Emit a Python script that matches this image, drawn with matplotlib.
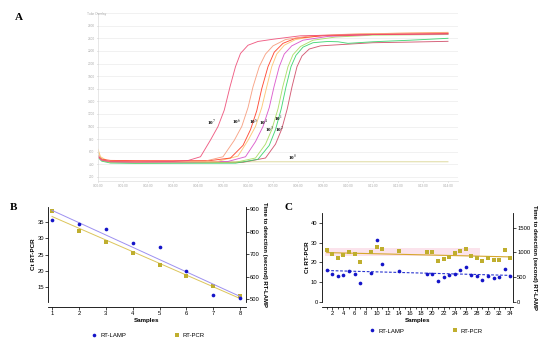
import numpy as np
import matplotlib.pyplot as plt
from matplotlib.lines import Line2D

plt.rcParams['font.family'] = ['Liberation Sans', 'DejaVu Sans']
plt.rcParams['mathtext.fontset'] = 'stix'

# ---------- panel A : amplification curves (minutes, fluorescence) ----------
t_e7 = [0, 0.15, 0.5, 1.5, 3.0, 3.6, 4.1, 4.5, 4.8, 5.05, 5.28, 5.5, 5.7, 6.0, 6.4, 7.0, 8.1, 10, 12, 14]
v_e7 = [540, 470, 445, 440, 445, 460, 520, 786, 1000, 1260, 1630, 1950, 2160, 2290, 2350, 2385, 2440, 2455, 2465, 2470]
t_e6 = [0, 0.15, 0.5, 1.5, 3.0, 4.3, 5.0, 5.45, 5.75, 6.0, 6.2, 6.45, 6.7, 7.0, 7.5, 8.5, 10, 12, 14]
v_e6 = [530, 470, 448, 442, 445, 452, 520, 780, 1000, 1300, 1630, 1950, 2150, 2280, 2380, 2440, 2465, 2480, 2490]
t_red = [0, 0.15, 0.5, 1.5, 3.0, 4.5, 5.3, 5.8, 6.1, 6.35, 6.55, 6.8, 7.05, 7.4, 7.9, 9, 11, 14]
v_red = [520, 480, 462, 458, 457, 460, 500, 700, 950, 1250, 1600, 1950, 2180, 2320, 2400, 2440, 2460, 2475]
t_e5 = [0, 0.1, 0.4, 1.5, 3.0, 4.8, 5.6, 6.0, 6.3, 6.55, 6.75, 6.95, 7.15, 7.45, 7.9, 8.8, 10.5, 14]
v_e5 = [640, 520, 450, 438, 440, 448, 530, 780, 1000, 1300, 1630, 1950, 2150, 2290, 2380, 2440, 2470, 2495]
t_e4 = [0, 0.15, 0.5, 1.5, 3.0, 5.2, 5.9, 6.3, 6.6, 6.85, 7.04, 7.25, 7.45, 7.75, 8.2, 9.2, 11, 14]
v_e4 = [520, 465, 440, 432, 435, 445, 520, 760, 1000, 1300, 1630, 1950, 2150, 2280, 2370, 2430, 2460, 2470]
t_e3 = [0, 0.15, 0.5, 1.5, 3.0, 5.5, 6.3, 6.7, 6.95, 7.2, 7.39, 7.6, 7.8, 8.1, 8.6, 9.5, 11, 14]
v_e3 = [520, 460, 432, 425, 428, 432, 500, 720, 950, 1280, 1630, 1950, 2140, 2270, 2370, 2420, 2450, 2460]
t_e2 = [0, 0.15, 0.5, 1.5, 3.0, 5.5, 6.4, 6.85, 7.1, 7.33, 7.52, 7.72, 7.92, 8.2, 8.6, 9.2, 9.6, 10.0, 11, 12.5, 14]
v_e2 = [510, 450, 420, 414, 416, 418, 480, 700, 950, 1280, 1630, 1950, 2130, 2260, 2330, 2350, 2345, 2320, 2345, 2370, 2400]
t_e1 = [0, 0.15, 0.5, 1.5, 3.0, 5.8, 6.7, 7.1, 7.35, 7.57, 7.76, 7.96, 8.16, 8.45, 8.9, 9.5, 11, 12.5, 14]
v_e1 = [520, 460, 435, 428, 430, 432, 500, 720, 960, 1280, 1630, 1950, 2120, 2230, 2280, 2295, 2330, 2340, 2352]
t_e0 = [0, 0.1, 0.4, 1.5, 4, 8, 11, 14]
v_e0 = [600, 500, 450, 440, 440, 440, 440, 440]

dil_labels = ['10$^7$', '10$^6$', '10$^5$', '10$^4$', '10$^1$', '10$^3$', '10$^2$', '10$^0$']
dil_x = [4.52, 5.52, 6.2, 6.62, 7.2, 6.84, 7.26, 7.76]
dil_y = [1056, 1056, 1056, 1056, 1119, 943, 943, 500]

# ---------- panel B ----------
samples_b = [1, 2, 3, 4, 5, 6, 7, 8]
pcr_b = [38.4, 32.1, 28.8, 25.6, 21.7, 18.5, 15.4, 12.1]
lamp_b = [852, 832, 811, 750, 732, 626, 516, 504]

# ---------- panel C ----------
samples_c = [1, 2, 3, 4, 5, 6, 7, 9, 10, 11, 14, 19, 20, 21, 22, 23, 24, 25, 26, 27, 28, 29, 30, 31, 32, 33, 34]
pcr_c = [26.2, 24.3, 22.3, 23.6, 25.3, 24.2, 20.1, 25.2, 27.9, 26.7, 25.7, 25.0, 25.2, 20.5, 21.5, 22.6,
         24.8, 25.7, 26.7, 23.1, 22.0, 20.6, 22.1, 21.0, 21.0, 26.3, 22.0]
lamp_c = [640, 556, 520, 540, 620, 556, 372, 576, 1248, 764, 628, 560, 568, 424, 508, 536,
          556, 636, 696, 536, 516, 440, 520, 480, 508, 656, 516]
band_x = [0.7, 28.6]
band_lo, band_hi = 23.3, 27.0

blue = '#1414c8'
olive = '#bfae2e'

fig = plt.figure(figsize=(5.5, 3.43), dpi=100)

# ===== A =====
axA = fig.add_axes([0.1782, 0.4723, 0.6545, 0.4895])
curves = [(t_e0, v_e0, '#d8d28c'), (t_e1, v_e1, '#cf4a66'), (t_e2, v_e2, '#35d36a'),
          (t_e3, v_e3, '#a6dc5e'), (t_e4, v_e4, '#d94fc9'), (t_e5, v_e5, '#fdc36b'),
          (t_red, v_red, '#ff3a22'), (t_e6, v_e6, '#f79a7a'), (t_e7, v_e7, '#ee4d77')]
for t, v, c in curves:
    axA.plot(t, v, color=c, lw=0.65, alpha=0.9)
axA.set_xlim(0, 14.4)
axA.set_ylim(135, 2800)
axA.set_yticks(range(200, 2801, 200))
axA.set_yticklabels([str(v) for v in range(200, 2601, 200)] + [''])
axA.set_xticks(range(15))
axA.set_xticklabels(['0:%02d:00' % m for m in range(15)])
axA.grid(axis='y', color='#ebebeb', lw=0.5)
axA.set_axisbelow(True)
for s in ['top', 'right']:
    axA.spines[s].set_visible(False)
for s in ['left', 'bottom']:
    axA.spines[s].set_color('#dddddd')
    axA.spines[s].set_linewidth(0.5)
axA.tick_params(labelsize=2.3, colors='#aaaaaa', length=1, width=0.4, pad=1.5)
for lab, x, y in zip(dil_labels, dil_x, dil_y):
    axA.text(x, y, lab, fontsize=3.6, fontweight='bold', family='Liberation Serif',
             ha='center', va='center')
fig.text(0.158, 0.96, 'Tube Overlay', fontsize=2.3, color='#aaaaaa', va='center')
fig.text(0.027, 0.95, 'A', fontsize=8, fontweight='bold', family='Liberation Serif', va='center')

# ===== B =====
axB = fig.add_axes([0.0873, 0.1195, 0.36, 0.277])
axB2 = axB.twinx()
xs = np.array([1, 8])
kb = np.polyfit(samples_b, pcr_b, 1)
axB.plot(xs, np.polyval(kb, xs), color='#dcc55a', lw=0.7)
axB.scatter(samples_b, pcr_b, marker='s', s=7, color=olive, zorder=3, linewidths=0)
kl = np.polyfit(samples_b, lamp_b, 1)
axB2.plot(xs, np.polyval(kl, xs), color='#9d90f0', lw=0.7)
axB2.scatter(samples_b, lamp_b, marker='o', s=7, color=blue, zorder=3, linewidths=0)
axB.set_xlim(0.85, 8.22)
axB.set_ylim(10.4, 39.6)
axB2.set_ylim(487, 909)
axB.set_xticks(samples_b)
axB.set_yticks([15, 20, 25, 30, 35])
axB2.set_yticks([500, 600, 700, 800, 900])
axB.set_xlabel('Samples', fontsize=4.5, fontweight='bold', labelpad=1.5)
axB.set_ylabel('Ct RT-PCR', fontsize=4.5, fontweight='bold', labelpad=1)
axB2.set_ylabel('Time to detection (second) RT-LAMP', fontsize=4.3, fontweight='bold',
                rotation=270, labelpad=5)
fig.text(0.018, 0.396, 'B', fontsize=8, fontweight='bold', family='Liberation Serif', va='center')

# ===== C =====
axC = fig.add_axes([0.585, 0.1204, 0.3478, 0.2586])
axC2 = axC.twinx()
axC.fill_between(band_x, band_lo, band_hi, color='#fbe3ec', lw=0, zorder=0)
xc = np.array([1, 34])
kc = np.polyfit(samples_c, pcr_c, 1)
axC.plot(xc, np.polyval(kc, xc), color='#d6a62c', lw=0.8)
axC.scatter(samples_c, pcr_c, marker='s', s=7, color=olive, zorder=3, linewidths=0)
kcl = np.polyfit(samples_c, lamp_c, 1)
axC2.plot(xc, np.polyval(kcl, xc), color='#2a35d0', lw=0.8, ls=(0, (2.5, 1.5)))
axC2.scatter(samples_c, lamp_c, marker='o', s=7, color=blue, zorder=3, linewidths=0)
axC.set_xlim(0.1, 34.5)
axC.set_ylim(0, 45)
axC2.set_ylim(0, 1800)
axC.set_xticks(range(2, 35, 2))
axC.set_xticks(range(1, 35, 2), minor=True)
axC.set_yticks([0, 10, 20, 30, 40])
axC2.set_yticks([0, 500, 1000, 1500])
axC.set_xlabel('Samples', fontsize=4.5, fontweight='bold', labelpad=1.5)
axC.set_ylabel('Ct RT-PCR', fontsize=4.5, fontweight='bold', labelpad=1)
axC2.set_ylabel('Time to detection (second) RT-LAMP', fontsize=4.3, fontweight='bold',
                rotation=270, labelpad=5)
fig.text(0.517, 0.396, 'C', fontsize=8, fontweight='bold', family='Liberation Serif', va='center')

for a, a2 in [(axB, axB2), (axC, axC2)]:
    a.spines['top'].set_visible(False)
    a.spines['right'].set_visible(False)
    a2.spines['top'].set_visible(False)
    a2.spines['left'].set_visible(False)
    a2.spines['bottom'].set_visible(False)
    a.spines['bottom'].set_position(('outward', 3.5))
    for sp in [a.spines['left'], a.spines['bottom'], a2.spines['right']]:
        sp.set_linewidth(0.6)
    for ax in (a, a2):
        ax.tick_params(which='both', direction='out', length=2, width=0.5, labelsize=4.2, pad=1)
    a.tick_params(which='minor', length=1.3)

# legends
def leg_handles():
    return [Line2D([], [], marker='o', ls='none', color=blue, markersize=2.6, markeredgewidth=0),
            Line2D([], [], marker='s', ls='none', color=olive, markersize=2.6, markeredgewidth=0)]

for cx, cy in [(0.269, 0.0233), (0.7745, 0.035)]:
    fig.legend(leg_handles(), ['RT-LAMP', 'RT-PCR'], loc='center', bbox_to_anchor=(cx, cy),
               ncol=2, frameon=False, fontsize=4.3, columnspacing=8, handletextpad=0.5,
               handlelength=1)

fig.savefig('out.png', dpi=100)
